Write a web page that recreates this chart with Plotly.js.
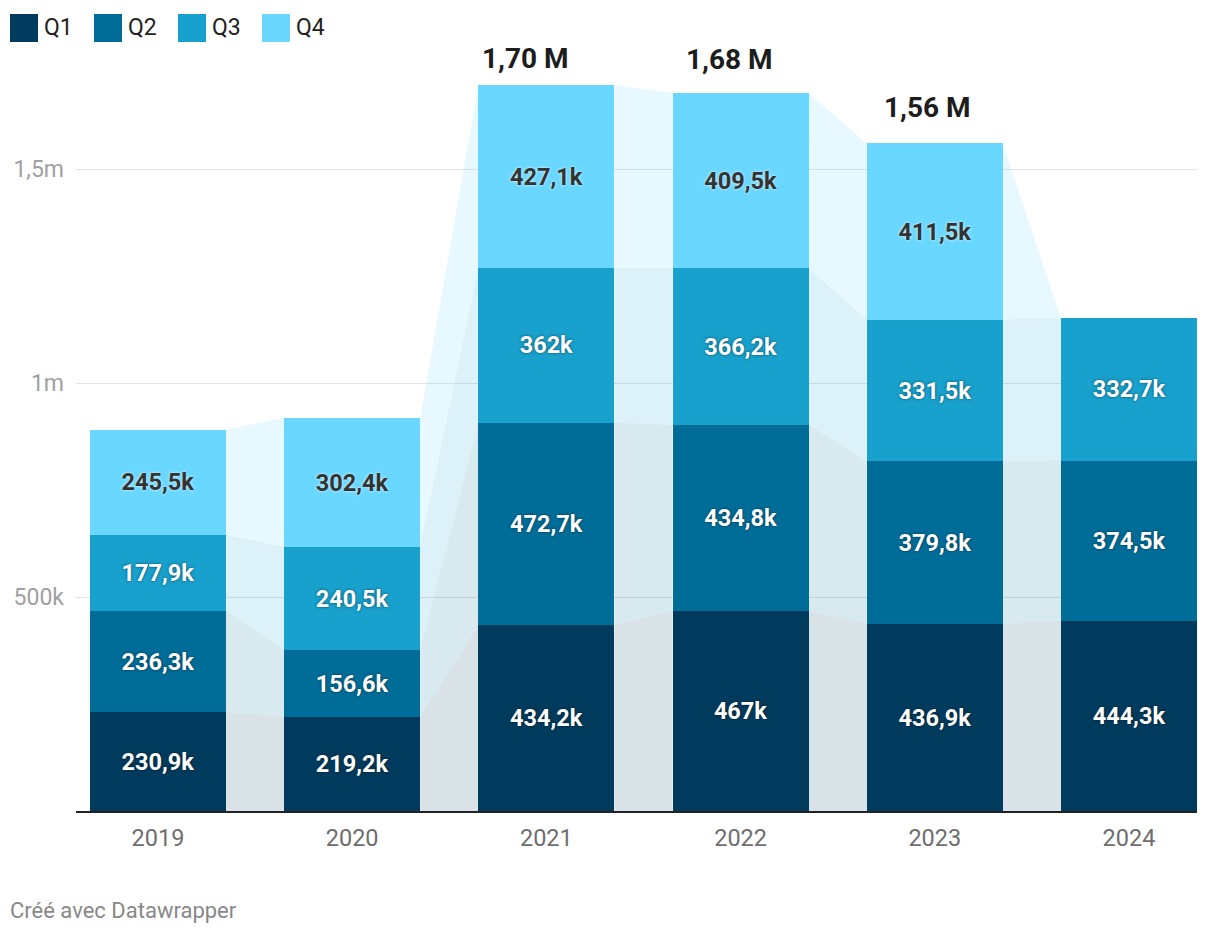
<!DOCTYPE html>
<html><head><meta charset="utf-8">
<script src="https://cdn.plot.ly/plotly-3.0.1.min.js"></script>
<style>html,body{margin:0;padding:0;background:#fff}#chart{width:1220px;height:936px}</style>
</head><body><div id="chart"></div>
<script>
// values in thousands
const years = ['2019','2020','2021','2022','2023','2024'];
const q1 = [230.9, 219.2, 434.2, 467, 436.9, 444.3];
const q2 = [236.3, 156.6, 472.7, 434.8, 379.8, 374.5];
const q3 = [177.9, 240.5, 362, 366.2, 331.5, 332.7];
const q4 = [245.5, 302.4, 427.1, 409.5, 411.5, null];
const seriesNames = ['Q1','Q2','Q3','Q4'];
const showTotal = [false, false, true, true, true, false];
const yTickVals = [500, 1000, 1500];
const yTickText = ['500k', '1m', '1,5m'];

// style: horizontal nudges of the total labels (px)
const totalXShift = [0, 0, -21, -11, -7, 0];

const colors = ['#003b5d', '#006d98', '#18a1cd', '#69d7ff'];
const bandColors = ['rgba(0,59,93,0.15)', 'rgba(0,109,152,0.15)', 'rgba(24,161,205,0.15)', 'rgba(105,215,255,0.16)'];
const series = [q1, q2, q3, q4];
const halfW = 0.35;
const xs = years.map((_, i) => i);

// cumulative bottoms/tops
const bottoms = [], tops = [];
let acc = years.map(() => 0);
series.forEach((s) => {
  bottoms.push(acc.slice());
  acc = acc.map((a, i) => a + (s[i] || 0));
  tops.push(acc.slice());
});
const totals = acc;

const traces = [];
// connecting bands
series.forEach((s, k) => {
  for (let i = 0; i < years.length - 1; i++) {
    const x0 = xs[i] + halfW, x1 = xs[i + 1] - halfW;
    traces.push({
      type: 'scatter', mode: 'lines',
      x: [x0, x0, x1, x1, x0],
      y: [bottoms[k][i], tops[k][i], tops[k][i + 1], bottoms[k][i + 1], bottoms[k][i]],
      fill: 'toself', fillcolor: bandColors[k], line: {width: 0},
      hoverinfo: 'skip', showlegend: false
    });
  }
});

const fmt = v => (v == null ? '' : String(v).replace('.', ',') + 'k');
series.forEach((s, k) => {
  const dark = k === 3;
  traces.push({
    type: 'bar', name: seriesNames[k], x: xs, y: s, width: 2 * halfW,
    marker: {color: colors[k], line: {width: 0}},
    text: s.map(fmt), textposition: 'inside', insidetextanchor: 'middle',
    textangle: 0, constraintext: 'none',
    textfont: {family: 'Roboto', size: 23.5, weight: 700,
      color: dark ? '#333333' : '#ffffff',
      shadow: dark ? '0px 0px 3px rgba(255,255,255,0.9)' : '0px 0px 3px rgba(0,0,0,0.55)'},
    hoverinfo: 'skip', showlegend: false
  });
});

const L = 76, R = 23, W = 1220, H = 936, T = 41, B = 125;
const pw = W - L - R, ph = H - T - B;
const pxPerK = 0.428;
const px = x => (x - L) / pw;
const py = y => (H - B - y) / ph;

const annotations = [];
xs.forEach((x, i) => {
  if (!showTotal[i]) return;
  const topPx = H - B - totals[i] * pxPerK;
  annotations.push({
    x: x, y: totals[i], xref: 'x', yref: 'y', yanchor: 'middle',
    yshift: Math.min(36, topPx - 59), xshift: totalXShift[i],
    text: (totals[i] / 1000).toFixed(2).replace('.', ',') + ' M',
    showarrow: false, font: {family: 'Roboto', size: 28, weight: 700, color: '#1d1d1d'}
  });
});
const shapes = [];
seriesNames.forEach((n, k) => {
  const x0 = 10 + k * 84;
  shapes.push({type: 'rect', xref: 'paper', yref: 'paper',
    x0: px(x0), x1: px(x0 + 28), y0: py(42), y1: py(14),
    fillcolor: colors[k], line: {width: 0}});
  annotations.push({xref: 'paper', yref: 'paper', x: px(x0 + 32), y: py(28),
    xanchor: 'left', yanchor: 'middle', text: n, showarrow: false,
    font: {family: 'Roboto', size: 23, color: '#222'}});
});
annotations.push({xref: 'paper', yref: 'paper', x: px(8), y: py(910),
  xanchor: 'left', yanchor: 'middle', text: 'Créé avec Datawrapper', showarrow: false,
  font: {family: 'Roboto', size: 22, color: '#888888'}});

const layout = {
  width: W, height: H, margin: {l: L, r: R, t: T, b: B},
  paper_bgcolor: '#fff', plot_bgcolor: '#fff',
  barmode: 'stack', bargap: 0, showlegend: false,
  font: {family: 'Roboto', color: '#333'},
  xaxis: {range: [-0.422, 5.35], tickvals: xs, ticktext: years, showgrid: false, zeroline: false,
    showline: true, linecolor: '#222', linewidth: 2, ticks: '', ticklabelstandoff: 5,
    tickfont: {family: 'Roboto', size: 23.5, color: '#6e6e6e'}, fixedrange: true},
  yaxis: {range: [0, ph / pxPerK], tickvals: yTickVals, ticktext: yTickText,
    showgrid: true, gridcolor: '#e3e3e3', gridwidth: 1, zeroline: false, ticks: '',
    ticklabelstandoff: 11, tickfont: {family: 'Roboto', size: 23, color: '#a0a0a0'}, fixedrange: true},
  annotations: annotations, shapes: shapes
};
Plotly.newPlot('chart', traces, layout, {displayModeBar: false, staticPlot: true});
</script></body></html>
